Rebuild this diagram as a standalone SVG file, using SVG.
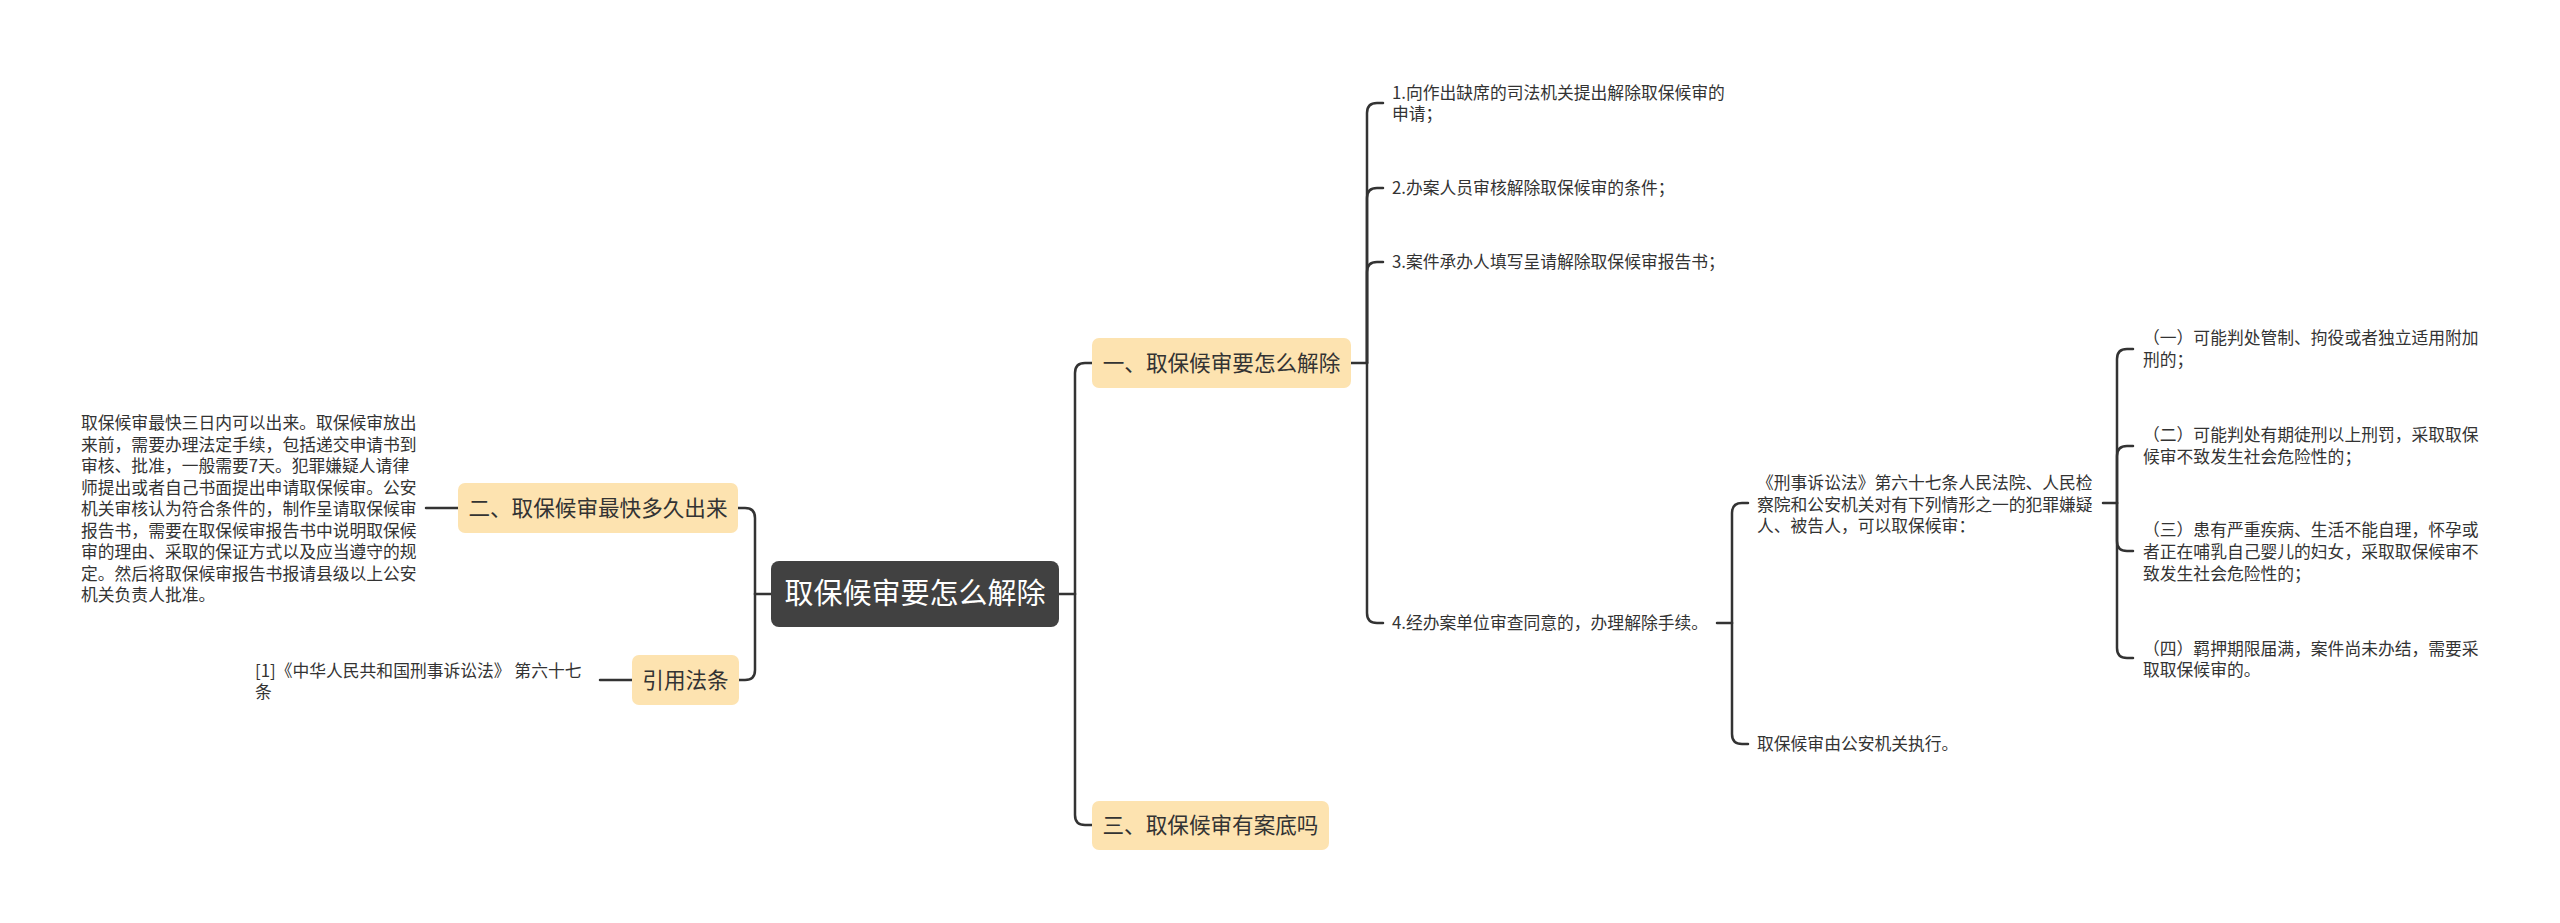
<svg xmlns="http://www.w3.org/2000/svg" width="2560" height="923" viewBox="0 0 2560 923">
<style>
.c{fill:none;stroke:#333;stroke-width:2.5;stroke-linecap:round}
.b{fill:#fde3b0}
.t{font-family:"Noto Sans CJK SC","Noto Sans",sans-serif;fill:#333}
.s{font-size:16.8px}
.m{font-size:21.6px;text-anchor:middle}
.r{font-size:29px;text-anchor:middle;fill:#fff}
</style>
<rect width="2560" height="923" fill="#fff"/>
<g id="connectors">
<path class="c" d="M1059,594 H1075"/>
<path class="c" d="M1075,594 V373 Q1075,363 1085,363 H1092"/>
<path class="c" d="M1075,594 V815 Q1075,825 1085,825 H1092"/>
<path class="c" d="M771,594 H755"/>
<path class="c" d="M755,594 V518 Q755,508 745,508 H738"/>
<path class="c" d="M755,594 V670 Q755,680 745,680 H739"/>
<path class="c" d="M458,508 H426"/>
<path class="c" d="M632,680 H600"/>
<path class="c" d="M1351,363 H1367"/>
<path class="c" d="M1367,363 V113 Q1367,103 1377,103 H1383"/>
<path class="c" d="M1367,363 V198 Q1367,188 1377,188 H1383"/>
<path class="c" d="M1367,363 V272 Q1367,262 1377,262 H1383"/>
<path class="c" d="M1367,363 V613 Q1367,623 1377,623 H1383"/>
<path class="c" d="M1717,623 H1732"/>
<path class="c" d="M1732,623 V513 Q1732,503 1742,503 H1748"/>
<path class="c" d="M1732,623 V734 Q1732,744 1742,744 H1748"/>
<path class="c" d="M2103,503 H2117"/>
<path class="c" d="M2117,503 V359 Q2117,349 2127,349 H2133"/>
<path class="c" d="M2117,503 V456 Q2117,446 2127,446 H2133"/>
<path class="c" d="M2117,503 V541 Q2117,551 2127,551 H2133"/>
<path class="c" d="M2117,503 V648 Q2117,658 2127,658 H2133"/>
</g>
<g id="root">
<rect x="771" y="561" width="288" height="66" rx="8" fill="#414141"/>
<text class="t r" x="915" y="604">取保候审要怎么解除</text>
</g>
<g id="n1">
<rect class="b" x="1092" y="338" width="259" height="50" rx="7"/>
<text class="t m" x="1221.5" y="371">一、取保候审要怎么解除</text>
</g>
<g id="n2">
<rect class="b" x="458" y="483" width="280" height="50" rx="7"/>
<text class="t m" x="598" y="516">二、取保候审最快多久出来</text>
</g>
<g id="n3">
<rect class="b" x="1092" y="801" width="237" height="49" rx="7"/>
<text class="t m" x="1210.5" y="833">三、取保候审有案底吗</text>
</g>
<g id="n4">
<rect class="b" x="632" y="655" width="107" height="50" rx="7"/>
<text class="t m" x="685.5" y="688">引用法条</text>
</g>
<g id="n2text">
<text class="t s" x="81">
<tspan x="81" y="429">取保候审最快三日内可以出来。取保候审放出</tspan>
<tspan x="81" y="450.5">来前，需要办理法定手续，包括递交申请书到</tspan>
<tspan x="81" y="472">审核、批准，一般需要7天。犯罪嫌疑人请律</tspan>
<tspan x="81" y="493.5">师提出或者自己书面提出申请取保候审。公安</tspan>
<tspan x="81" y="515">机关审核认为符合条件的，制作呈请取保候审</tspan>
<tspan x="81" y="536.5">报告书，需要在取保候审报告书中说明取保候</tspan>
<tspan x="81" y="558">审的理由、采取的保证方式以及应当遵守的规</tspan>
<tspan x="81" y="579.5">定。然后将取保候审报告书报请县级以上公安</tspan>
<tspan x="81" y="601">机关负责人批准。</tspan>
</text>
</g>
<g id="cite">
<text class="t s"><tspan x="255" y="677">[1]《中华人民共和国刑事诉讼法》 第六十七</tspan><tspan x="255" y="698">条</tspan></text>
</g>
<g id="s1">
<text class="t s"><tspan x="1392" y="99">1.向作出缺席的司法机关提出解除取保候审的</tspan><tspan x="1392" y="120">申请；</tspan></text>
</g>
<g id="s2">
<text class="t s" x="1392" y="194">2.办案人员审核解除取保候审的条件；</text>
</g>
<g id="s3">
<text class="t s" x="1392" y="268">3.案件承办人填写呈请解除取保候审报告书；</text>
</g>
<g id="s4">
<text class="t s" x="1392" y="629">4.经办案单位审查同意的，办理解除手续。</text>
</g>
<g id="law">
<text class="t s"><tspan x="1757" y="489">《刑事诉讼法》第六十七条人民法院、人民检</tspan><tspan x="1757" y="510.5">察院和公安机关对有下列情形之一的犯罪嫌疑</tspan><tspan x="1757" y="532">人、被告人，可以取保候审：</tspan></text>
</g>
<g id="exec">
<text class="t s" x="1757" y="750">取保候审由公安机关执行。</text>
</g>
<g id="c1">
<text class="t s"><tspan x="2143" y="344">（一）可能判处管制、拘役或者独立适用附加</tspan><tspan x="2143" y="366">刑的；</tspan></text>
</g>
<g id="c2">
<text class="t s"><tspan x="2143" y="441">（二）可能判处有期徒刑以上刑罚，采取取保</tspan><tspan x="2143" y="462.5">候审不致发生社会危险性的；</tspan></text>
</g>
<g id="c3">
<text class="t s"><tspan x="2143" y="536">（三）患有严重疾病、生活不能自理，怀孕或</tspan><tspan x="2143" y="558">者正在哺乳自己婴儿的妇女，采取取保候审不</tspan><tspan x="2143" y="580">致发生社会危险性的；</tspan></text>
</g>
<g id="c4">
<text class="t s"><tspan x="2143" y="655">（四）羁押期限届满，案件尚未办结，需要采</tspan><tspan x="2143" y="676">取取保候审的。</tspan></text>
</g>
</svg>
